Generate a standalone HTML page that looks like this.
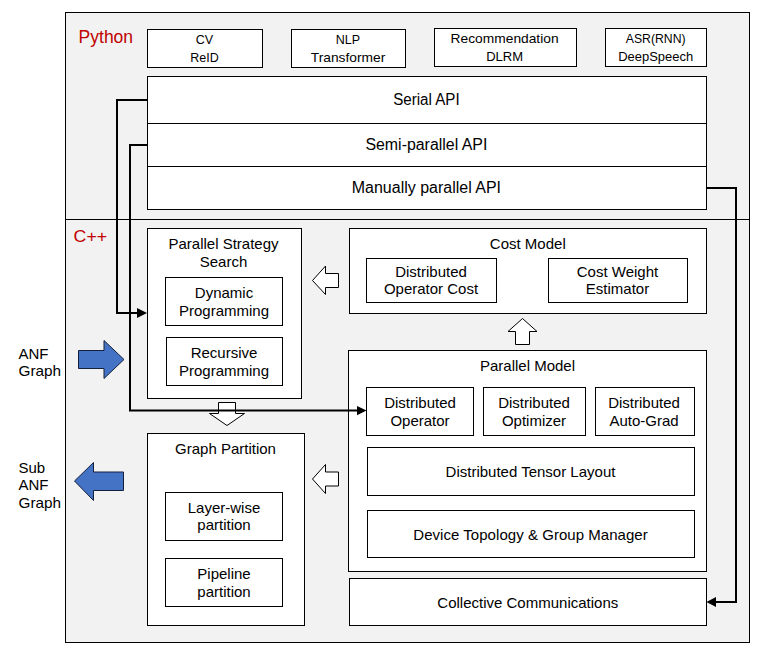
<!DOCTYPE html>
<html><head><meta charset="utf-8">
<style>
html,body{margin:0;padding:0;background:#fff;width:763px;height:657px;overflow:hidden}
svg{display:block}
text{font-family:"Liberation Sans",sans-serif;fill:#000}
.t15{font-size:15px}
.py{font-size:16px}
.sm{font-size:13px}
</style></head><body>
<svg width="763" height="657" viewBox="0 0 763 657">
<g fill="#fff" stroke="#000" stroke-width="1" shape-rendering="crispEdges">
<rect x="65.5" y="12.5" width="684" height="630" fill="#f2f2f2"/>
<line x1="65" y1="219.5" x2="750" y2="219.5"/>
<rect x="147.5" y="29.5" width="115" height="38"/>
<rect x="291.5" y="29.5" width="114" height="38"/>
<rect x="434.5" y="28.5" width="142" height="38"/>
<rect x="605.5" y="28.5" width="101" height="38"/>
<rect x="147.5" y="76.5" width="559" height="133"/>
<line x1="147" y1="123.5" x2="707" y2="123.5"/>
<line x1="147" y1="166.5" x2="707" y2="166.5"/>
<rect x="147.5" y="228.5" width="154" height="170"/>
<rect x="165.5" y="277.5" width="117" height="48"/>
<rect x="166.5" y="337.5" width="116" height="48"/>
<rect x="349.5" y="228.5" width="357" height="85"/>
<rect x="366.5" y="258.5" width="130" height="44"/>
<rect x="548.5" y="258.5" width="139" height="44"/>
<rect x="348.5" y="350.5" width="358" height="221"/>
<rect x="366.5" y="387.5" width="107" height="48"/>
<rect x="483.5" y="387.5" width="102" height="48"/>
<rect x="595.5" y="387.5" width="99" height="48"/>
<rect x="367.5" y="447.5" width="327" height="48"/>
<rect x="367.5" y="510.5" width="327" height="47"/>
<rect x="349.5" y="578.5" width="357" height="47"/>
<rect x="147.5" y="433.5" width="157" height="192"/>
<rect x="165.5" y="492.5" width="117" height="48"/>
<rect x="165.5" y="558.5" width="117" height="48"/>
</g>
<!-- hollow arrows -->
<g fill="#fff" stroke="#000" stroke-width="1" stroke-linejoin="miter">
<polygon points="312.5,280.5 325.5,266 325.5,273.5 338.5,273.5 338.5,287.5 325.5,287.5 325.5,294.5"/>
<polygon points="312.5,479 325.5,464.5 325.5,472 338.5,472 338.5,486 325.5,486 325.5,493.5"/>
<polygon points="522.5,318.5 537,331.5 529.5,331.5 529.5,344.5 515.5,344.5 515.5,331.5 508,331.5"/>
<polygon points="227,425.5 244.5,413.5 235.5,413.5 235.5,402.5 218.5,402.5 218.5,413.5 209.5,413.5"/>
</g>
<!-- connectors -->
<g fill="none" stroke="#000" stroke-width="2">
<polyline points="147,100 117,100 117,313 138,313"/>
<polyline points="147,145 130,145 130,410.5 358,410.5"/>
<polyline points="706,188 736,188 736,602 715,602"/>
</g>
<g fill="#000" stroke="none">
<polygon points="137,308 147,313 137,318"/>
<polygon points="357,406 366.5,410.5 357,415.2"/>
<polygon points="716,597 706.5,602 716,607"/>
</g>
<!-- blue arrows -->
<g fill="#4472c4" stroke="#14213d" stroke-width="1">
<polygon points="78.5,350.5 104,350.5 104,340.5 124,359.5 104,378.5 104,368.5 78.5,368.5"/>
<polygon points="74.5,481 93.5,462.5 93.5,472 123.5,472 123.5,490.5 93.5,490.5 93.5,500.5"/>
</g>
<!-- texts -->
<g text-anchor="middle">
<text x="204.5" y="43.7" style="font-size:12.5px">CV</text>
<text x="204.5" y="61.9" style="font-size:12.5px">ReID</text>
<text x="348" y="43.7" style="font-size:12.5px">NLP</text>
<text x="348" y="61.9" class="sm" textLength="74.5" lengthAdjust="spacingAndGlyphs">Transformer</text>
<text x="504.6" y="42.6" class="sm" textLength="108" lengthAdjust="spacingAndGlyphs">Recommendation</text>
<text x="504.6" y="60.9" class="sm">DLRM</text>
<text x="655.7" y="42.6" class="sm" textLength="59.8" lengthAdjust="spacingAndGlyphs">ASR(RNN)</text>
<text x="655.7" y="60.9" class="sm" textLength="75" lengthAdjust="spacingAndGlyphs">DeepSpeech</text>
<text x="426.4" y="105.2" class="py" textLength="66.5" lengthAdjust="spacingAndGlyphs">Serial API</text>
<text x="426.4" y="150.3" class="py" textLength="122" lengthAdjust="spacingAndGlyphs">Semi-parallel API</text>
<text x="426.4" y="193.2" class="py" textLength="149.3" lengthAdjust="spacingAndGlyphs">Manually parallel API</text>

<text x="223.5" y="249" class="t15">Parallel Strategy</text>
<text x="223.5" y="266.9" class="t15">Search</text>
<text x="224" y="298" class="t15">Dynamic</text>
<text x="224" y="315.5" class="t15">Programming</text>
<text x="224" y="358.4" class="t15">Recursive</text>
<text x="224" y="375.8" class="t15">Programming</text>

<text x="527.8" y="248.6" class="t15">Cost Model</text>
<text x="431" y="276.7" class="t15">Distributed</text>
<text x="431" y="294.4" class="t15">Operator Cost</text>
<text x="617.5" y="276.7" class="t15">Cost Weight</text>
<text x="617.5" y="294.4" class="t15">Estimator</text>

<text x="527.5" y="370.8" class="t15">Parallel Model</text>
<text x="420" y="407.8" class="t15">Distributed</text>
<text x="420" y="425.7" class="t15">Operator</text>
<text x="534" y="407.8" class="t15">Distributed</text>
<text x="534" y="425.7" class="t15">Optimizer</text>
<text x="644" y="407.8" class="t15">Distributed</text>
<text x="644" y="425.7" class="t15">Auto-Grad</text>
<text x="530.5" y="476.5" class="t15">Distributed Tensor Layout</text>
<text x="530.5" y="539.8" class="t15" textLength="234.5" lengthAdjust="spacing">Device Topology &amp; Group Manager</text>
<text x="527.8" y="607.8" class="t15">Collective Communications</text>

<text x="225.5" y="453.7" class="t15">Graph Partition</text>
<text x="224" y="513" class="t15">Layer-wise</text>
<text x="224" y="530.4" class="t15">partition</text>
<text x="224" y="579.4" class="t15">Pipeline</text>
<text x="224" y="596.6" class="t15">partition</text>
</g>
<g>
<text x="78.6" y="42.9" style="font-size:17.5px;fill:#c00000" textLength="54.5" lengthAdjust="spacingAndGlyphs">Python</text>
<text x="73.6" y="241.5" style="font-size:17px;fill:#c00000" textLength="33.6" lengthAdjust="spacingAndGlyphs">C++</text>
<text x="18.5" y="358.6" class="t15">ANF</text>
<text x="18.5" y="376.2" class="t15" textLength="42.6" lengthAdjust="spacingAndGlyphs">Graph</text>
<text x="18.5" y="472.7" class="t15">Sub</text>
<text x="18.5" y="490.4" class="t15">ANF</text>
<text x="18.5" y="507.9" class="t15" textLength="42.6" lengthAdjust="spacingAndGlyphs">Graph</text>
</g>
</svg>
</body></html>
